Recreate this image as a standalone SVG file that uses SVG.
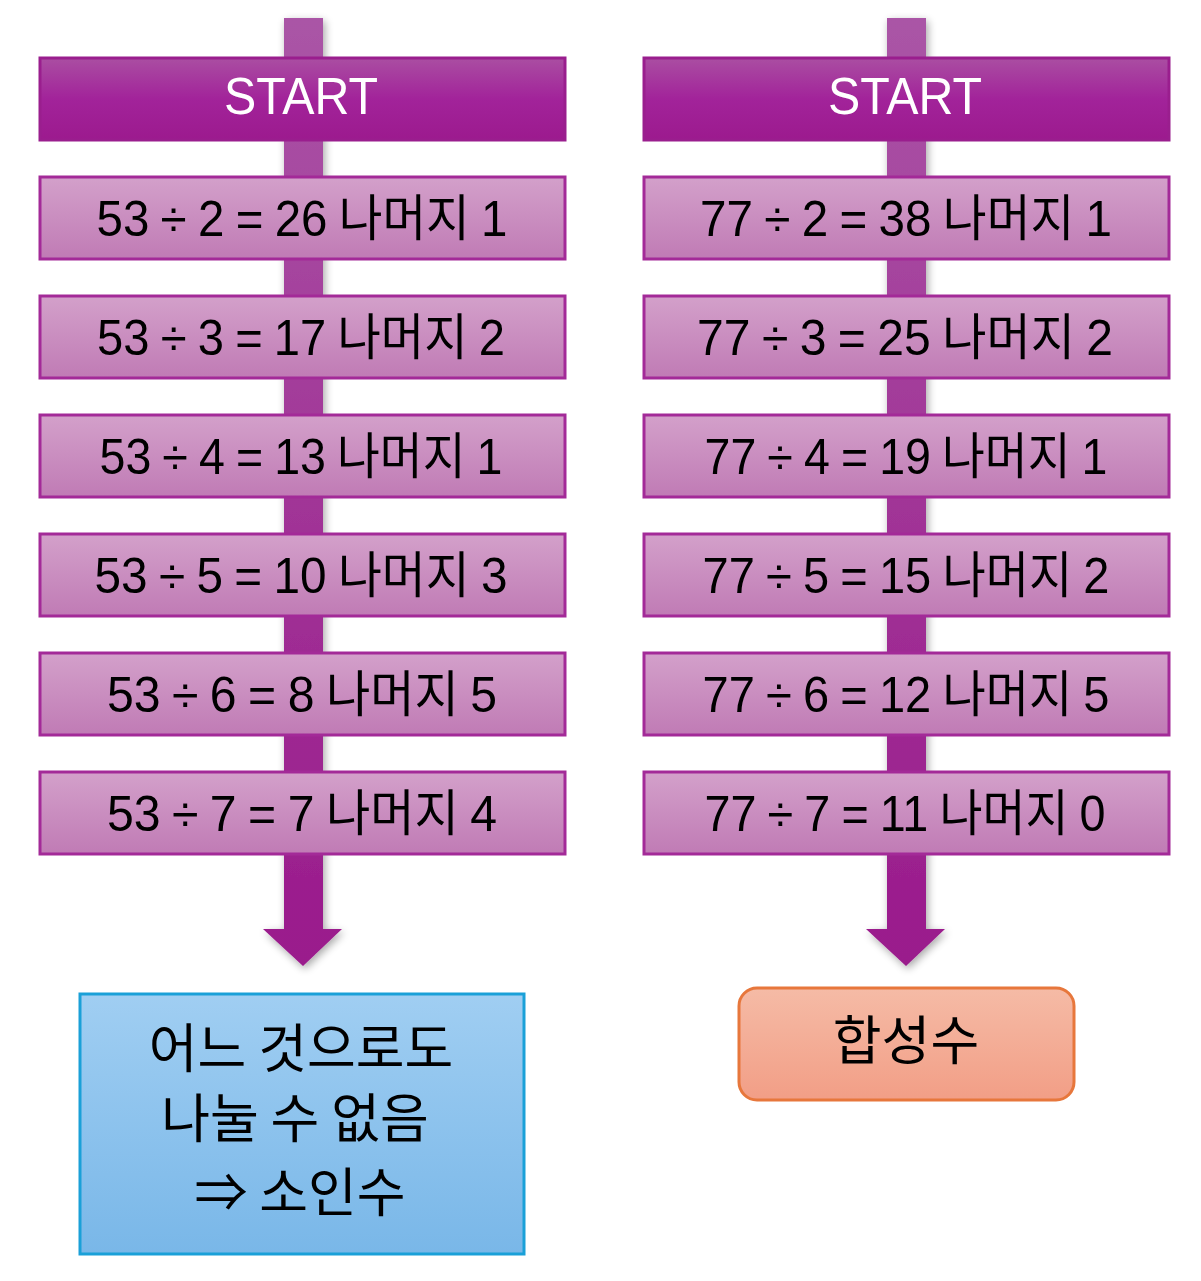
<svg xmlns="http://www.w3.org/2000/svg" width="1201" height="1281" viewBox="0 0 1201 1281">
<defs>
<linearGradient id="gBar" x1="0" y1="0" x2="0" y2="1">
<stop offset="0" stop-color="#AA55A6"/>
<stop offset="0.5" stop-color="#A13597"/>
<stop offset="1" stop-color="#9A1A8C"/>
</linearGradient>
<linearGradient id="gStart" x1="0" y1="0" x2="0" y2="1">
<stop offset="0" stop-color="#AA4EA2"/>
<stop offset="0.5" stop-color="#A2239A"/>
<stop offset="1" stop-color="#9C1A8E"/>
</linearGradient>
<linearGradient id="gStep" x1="0" y1="0" x2="0" y2="1">
<stop offset="0" stop-color="#D3A0CA"/>
<stop offset="1" stop-color="#C07BB5"/>
</linearGradient>
<linearGradient id="gBlue" x1="0" y1="0" x2="0" y2="1">
<stop offset="0" stop-color="#A0CEF2"/>
<stop offset="1" stop-color="#79B7E8"/>
</linearGradient>
<linearGradient id="gOrange" x1="0" y1="0" x2="0" y2="1">
<stop offset="0" stop-color="#F5BBA6"/>
<stop offset="1" stop-color="#F29E86"/>
</linearGradient>
<filter id="shadow" x="-50%" y="-5%" width="200%" height="110%">
<feGaussianBlur in="SourceAlpha" stdDeviation="4"/>
<feOffset dx="2" dy="3" result="b"/>
<feComponentTransfer><feFuncA type="linear" slope="0.35"/></feComponentTransfer>
<feMerge><feMergeNode/><feMergeNode in="SourceGraphic"/></feMerge>
</filter>
</defs>
<style>
.bar{fill:url(#gBar);}
.start{fill:url(#gStart);stroke:#9A1E8E;stroke-width:3;}
.step{fill:url(#gStep);stroke:#A32A98;stroke-width:3;}
.st{font-family:"Liberation Sans","Noto Sans CJK KR",sans-serif;font-size:52px;fill:#ffffff;text-anchor:middle;}
.t{font-family:"Liberation Sans","Noto Sans CJK KR",sans-serif;font-size:50px;fill:#000000;text-anchor:middle;word-spacing:-2px;}
.k{font-family:"Noto Sans CJK KR","Liberation Sans",sans-serif;font-size:53px;fill:#000000;text-anchor:middle;}
</style>
<rect width="1201" height="1281" fill="#ffffff"/>
<g id="connectors">
<path class="bar" filter="url(#shadow)" d="M284,18 H323 V929 H342 L303,966 L263,929 H284 Z"/>
<path class="bar" filter="url(#shadow)" d="M887,18 H926 V929 H945 L906,966 L866,929 H887 Z"/>
</g>
<g id="left-start"><rect class="start" x="40" y="58" width="525" height="82"/><text class="st" x="301" y="114" textLength="154" lengthAdjust="spacingAndGlyphs">START</text></g>
<g id="left-1"><rect class="step" x="40" y="177" width="525" height="82"/><text class="t" x="302" y="236" textLength="411" lengthAdjust="spacingAndGlyphs">53 ÷ 2 = 26 나머지 1</text></g>
<g id="left-2"><rect class="step" x="40" y="296" width="525" height="82"/><text class="t" x="301" y="355" textLength="408" lengthAdjust="spacingAndGlyphs">53 ÷ 3 = 17 나머지 2</text></g>
<g id="left-3"><rect class="step" x="40" y="415" width="525" height="82"/><text class="t" x="301" y="474" textLength="403" lengthAdjust="spacingAndGlyphs">53 ÷ 4 = 13 나머지 1</text></g>
<g id="left-4"><rect class="step" x="40" y="534" width="525" height="82"/><text class="t" x="301" y="593" textLength="413" lengthAdjust="spacingAndGlyphs">53 ÷ 5 = 10 나머지 3</text></g>
<g id="left-5"><rect class="step" x="40" y="653" width="525" height="82"/><text class="t" x="302" y="712" textLength="390" lengthAdjust="spacingAndGlyphs">53 ÷ 6 = 8 나머지 5</text></g>
<g id="left-6"><rect class="step" x="40" y="772" width="525" height="82"/><text class="t" x="302" y="831" textLength="390" lengthAdjust="spacingAndGlyphs">53 ÷ 7 = 7 나머지 4</text></g>
<g id="right-start"><rect class="start" x="644" y="58" width="525" height="82"/><text class="st" x="905" y="114" textLength="154" lengthAdjust="spacingAndGlyphs">START</text></g>
<g id="right-1"><rect class="step" x="644" y="177" width="525" height="82"/><text class="t" x="906" y="236" textLength="412" lengthAdjust="spacingAndGlyphs">77 ÷ 2 = 38 나머지 1</text></g>
<g id="right-2"><rect class="step" x="644" y="296" width="525" height="82"/><text class="t" x="905" y="355" textLength="416" lengthAdjust="spacingAndGlyphs">77 ÷ 3 = 25 나머지 2</text></g>
<g id="right-3"><rect class="step" x="644" y="415" width="525" height="82"/><text class="t" x="906" y="474" textLength="403" lengthAdjust="spacingAndGlyphs">77 ÷ 4 = 19 나머지 1</text></g>
<g id="right-4"><rect class="step" x="644" y="534" width="525" height="82"/><text class="t" x="906" y="593" textLength="407" lengthAdjust="spacingAndGlyphs">77 ÷ 5 = 15 나머지 2</text></g>
<g id="right-5"><rect class="step" x="644" y="653" width="525" height="82"/><text class="t" x="906" y="712" textLength="407" lengthAdjust="spacingAndGlyphs">77 ÷ 6 = 12 나머지 5</text></g>
<g id="right-6"><rect class="step" x="644" y="772" width="525" height="82"/><text class="t" x="905" y="831" textLength="401" lengthAdjust="spacingAndGlyphs">77 ÷ 7 = 11 나머지 0</text></g>
<g id="prime"><rect x="80" y="994" width="444" height="260" fill="url(#gBlue)" stroke="#1AA0D8" stroke-width="3"/>
<text class="k" x="301" y="1068">어느 것으로도</text>
<text class="k" x="295" y="1138">나눌 수 없음</text>
<text class="k" x="300" y="1212">⇒ 소인수</text></g>
<g id="composite"><rect x="739" y="988" width="335" height="112" rx="18" fill="url(#gOrange)" stroke="#E7773C" stroke-width="3"/>
<text class="k" x="906" y="1060" font-size="56">합성수</text></g>
</svg>
